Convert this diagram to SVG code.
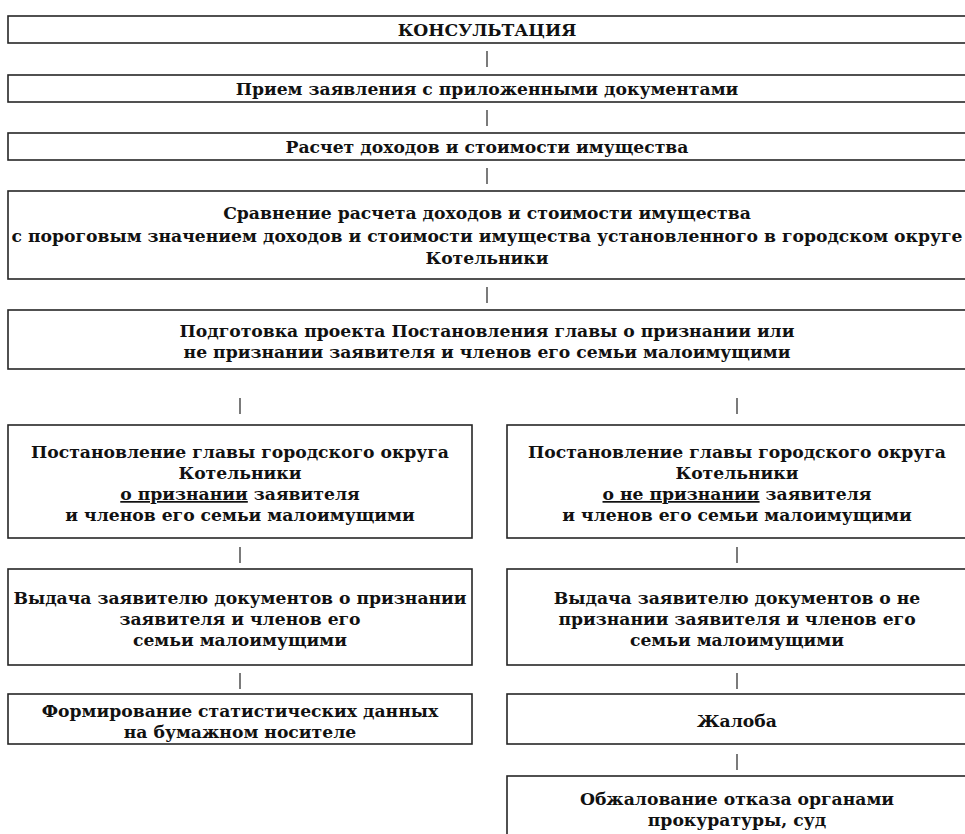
<svg xmlns="http://www.w3.org/2000/svg" width="965" height="834" viewBox="0 0 965 834">
<style>
.box{fill:#fff;stroke:#262626;stroke-width:1.6}
.t{font-family:"DejaVu Serif","Liberation Serif",serif;font-weight:bold;font-size:17.2px;fill:#111;text-anchor:middle}
.c{stroke:#333;stroke-width:1.3}
</style>
<rect width="965" height="834" fill="#fff"/>
<g id="n1"><rect class="box" x="8" y="16" width="962" height="27"/><text class="t" x="487" y="36">КОНСУЛЬТАЦИЯ</text></g>
<g id="n2"><rect class="box" x="8" y="75" width="962" height="27"/><text class="t" x="487" y="95">Прием заявления с приложенными документами</text></g>
<g id="n3"><rect class="box" x="8" y="133" width="962" height="27"/><text class="t" x="487" y="153">Расчет доходов и стоимости имущества</text></g>
<g id="n4"><rect class="box" x="8" y="191" width="962" height="88"/>
<text class="t" x="487" y="219">Сравнение расчета доходов и стоимости имущества</text>
<text class="t" x="487" y="242">с пороговым значением доходов и стоимости имущества установленного в городском округе</text>
<text class="t" x="487" y="264">Котельники</text></g>
<g id="n5"><rect class="box" x="8" y="310" width="962" height="59"/>
<text class="t" x="487" y="337">Подготовка проекта Постановления главы о признании или</text>
<text class="t" x="487" y="358">не признании заявителя и членов его семьи малоимущими</text></g>
<g id="n6l"><rect class="box" x="8" y="425" width="464" height="113"/>
<text class="t" x="240" y="458">Постановление главы городского округа</text>
<text class="t" x="240" y="479">Котельники</text>
<text class="t" x="240" y="500"><tspan text-decoration="underline">о признании</tspan> заявителя</text>
<text class="t" x="240" y="521">и членов его семьи малоимущими</text></g>
<g id="n6r"><rect class="box" x="507" y="425" width="463" height="113"/>
<text class="t" x="737" y="458">Постановление главы городского округа</text>
<text class="t" x="737" y="479">Котельники</text>
<text class="t" x="737" y="500"><tspan text-decoration="underline">о не признании</tspan> заявителя</text>
<text class="t" x="737" y="521">и членов его семьи малоимущими</text></g>
<g id="n7l"><rect class="box" x="8" y="569" width="464" height="96"/>
<text class="t" x="240" y="604">Выдача заявителю документов о признании</text>
<text class="t" x="240" y="625">заявителя и членов его</text>
<text class="t" x="240" y="646">семьи малоимущими</text></g>
<g id="n7r"><rect class="box" x="507" y="569" width="463" height="96"/>
<text class="t" x="737" y="604">Выдача заявителю документов о не</text>
<text class="t" x="737" y="625">признании заявителя и членов его</text>
<text class="t" x="737" y="646">семьи малоимущими</text></g>
<g id="n8l"><rect class="box" x="8" y="694" width="464" height="50"/>
<text class="t" x="240" y="717">Формирование статистических данных</text>
<text class="t" x="240" y="738">на бумажном носителе</text></g>
<g id="n8r"><rect class="box" x="507" y="694" width="463" height="50"/>
<text class="t" x="737" y="727">Жалоба</text></g>
<g id="n9r"><rect class="box" x="507" y="776" width="463" height="62"/>
<text class="t" x="737" y="805">Обжалование отказа органами</text>
<text class="t" x="737" y="826">прокуратуры, суд</text></g>
<g id="connectors">
<line class="c" x1="487" y1="51" x2="487" y2="67"/>
<line class="c" x1="487" y1="110" x2="487" y2="126"/>
<line class="c" x1="487" y1="168" x2="487" y2="184"/>
<line class="c" x1="487" y1="287" x2="487" y2="303"/>
<line class="c" x1="240" y1="398" x2="240" y2="414"/>
<line class="c" x1="737" y1="398" x2="737" y2="414"/>
<line class="c" x1="240" y1="547" x2="240" y2="563"/>
<line class="c" x1="737" y1="547" x2="737" y2="563"/>
<line class="c" x1="240" y1="673" x2="240" y2="689"/>
<line class="c" x1="737" y1="673" x2="737" y2="689"/>
<line class="c" x1="737" y1="754" x2="737" y2="770"/>
</g>
</svg>
